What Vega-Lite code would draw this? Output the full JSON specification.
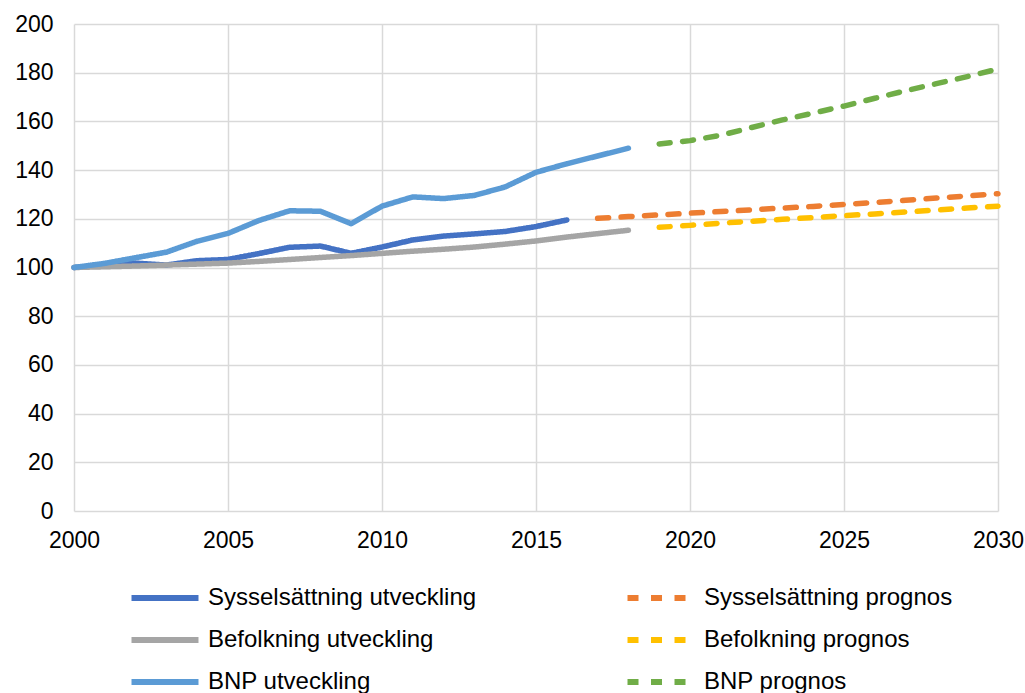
{
  "$schema": "https://vega.github.io/schema/vega-lite/v6.json",
  "width": 924,
  "height": 487,
  "autosize": {"type": "none"},
  "padding": {"left": 74, "top": 24, "right": 27, "bottom": 182},
  "background": "white",
  "config": {
    "view": {"stroke": null},
    "font": "Liberation Sans",
    "axis": {
      "domain": false,
      "ticks": false,
      "gridColor": "#d9d9d9",
      "gridWidth": 1.5,
      "labelFont": "Liberation Sans",
      "labelFontSize": 23,
      "labelColor": "#000000",
      "title": null
    },
    "legend": {
      "labelFont": "Liberation Sans",
      "labelFontSize": 24,
      "labelColor": "#000000"
    }
  },
  "data": {
    "values": [
      {"year": 2000, "series": "Sysselsättning utveckling", "value": 100},
      {"year": 2001, "series": "Sysselsättning utveckling", "value": 101},
      {"year": 2002, "series": "Sysselsättning utveckling", "value": 101.8},
      {"year": 2003, "series": "Sysselsättning utveckling", "value": 101},
      {"year": 2004, "series": "Sysselsättning utveckling", "value": 102.8},
      {"year": 2005, "series": "Sysselsättning utveckling", "value": 103.3},
      {"year": 2006, "series": "Sysselsättning utveckling", "value": 105.7},
      {"year": 2007, "series": "Sysselsättning utveckling", "value": 108.3},
      {"year": 2008, "series": "Sysselsättning utveckling", "value": 108.8},
      {"year": 2009, "series": "Sysselsättning utveckling", "value": 105.8},
      {"year": 2010, "series": "Sysselsättning utveckling", "value": 108.4},
      {"year": 2011, "series": "Sysselsättning utveckling", "value": 111.3},
      {"year": 2012, "series": "Sysselsättning utveckling", "value": 112.9},
      {"year": 2013, "series": "Sysselsättning utveckling", "value": 113.8},
      {"year": 2014, "series": "Sysselsättning utveckling", "value": 114.8},
      {"year": 2015, "series": "Sysselsättning utveckling", "value": 116.8},
      {"year": 2016, "series": "Sysselsättning utveckling", "value": 119.5},
      {"year": 2000, "series": "Befolkning utveckling", "value": 100},
      {"year": 2001, "series": "Befolkning utveckling", "value": 100.3},
      {"year": 2002, "series": "Befolkning utveckling", "value": 100.6},
      {"year": 2003, "series": "Befolkning utveckling", "value": 101},
      {"year": 2004, "series": "Befolkning utveckling", "value": 101.4},
      {"year": 2005, "series": "Befolkning utveckling", "value": 101.8},
      {"year": 2006, "series": "Befolkning utveckling", "value": 102.5},
      {"year": 2007, "series": "Befolkning utveckling", "value": 103.3},
      {"year": 2008, "series": "Befolkning utveckling", "value": 104.1},
      {"year": 2009, "series": "Befolkning utveckling", "value": 104.9},
      {"year": 2010, "series": "Befolkning utveckling", "value": 105.8},
      {"year": 2011, "series": "Befolkning utveckling", "value": 106.7},
      {"year": 2012, "series": "Befolkning utveckling", "value": 107.5},
      {"year": 2013, "series": "Befolkning utveckling", "value": 108.4},
      {"year": 2014, "series": "Befolkning utveckling", "value": 109.6},
      {"year": 2015, "series": "Befolkning utveckling", "value": 110.9},
      {"year": 2016, "series": "Befolkning utveckling", "value": 112.5},
      {"year": 2017, "series": "Befolkning utveckling", "value": 113.9},
      {"year": 2018, "series": "Befolkning utveckling", "value": 115.3},
      {"year": 2000, "series": "BNP utveckling", "value": 100},
      {"year": 2001, "series": "BNP utveckling", "value": 101.7},
      {"year": 2002, "series": "BNP utveckling", "value": 104},
      {"year": 2003, "series": "BNP utveckling", "value": 106.3},
      {"year": 2004, "series": "BNP utveckling", "value": 110.8},
      {"year": 2005, "series": "BNP utveckling", "value": 114},
      {"year": 2006, "series": "BNP utveckling", "value": 119.3},
      {"year": 2007, "series": "BNP utveckling", "value": 123.3},
      {"year": 2008, "series": "BNP utveckling", "value": 123.1},
      {"year": 2009, "series": "BNP utveckling", "value": 118},
      {"year": 2010, "series": "BNP utveckling", "value": 125.2},
      {"year": 2011, "series": "BNP utveckling", "value": 129},
      {"year": 2012, "series": "BNP utveckling", "value": 128.3},
      {"year": 2013, "series": "BNP utveckling", "value": 129.6},
      {"year": 2014, "series": "BNP utveckling", "value": 133.1},
      {"year": 2015, "series": "BNP utveckling", "value": 139.1},
      {"year": 2016, "series": "BNP utveckling", "value": 142.6},
      {"year": 2017, "series": "BNP utveckling", "value": 145.8},
      {"year": 2018, "series": "BNP utveckling", "value": 149},
      {"year": 2017, "series": "Sysselsättning prognos", "value": 120.2},
      {"year": 2018, "series": "Sysselsättning prognos", "value": 120.9},
      {"year": 2019, "series": "Sysselsättning prognos", "value": 121.6},
      {"year": 2020, "series": "Sysselsättning prognos", "value": 122.3},
      {"year": 2021, "series": "Sysselsättning prognos", "value": 123},
      {"year": 2022, "series": "Sysselsättning prognos", "value": 123.7},
      {"year": 2023, "series": "Sysselsättning prognos", "value": 124.4},
      {"year": 2024, "series": "Sysselsättning prognos", "value": 125.1},
      {"year": 2025, "series": "Sysselsättning prognos", "value": 125.9},
      {"year": 2026, "series": "Sysselsättning prognos", "value": 126.7},
      {"year": 2027, "series": "Sysselsättning prognos", "value": 127.6},
      {"year": 2028, "series": "Sysselsättning prognos", "value": 128.5},
      {"year": 2029, "series": "Sysselsättning prognos", "value": 129.4},
      {"year": 2030, "series": "Sysselsättning prognos", "value": 130.3},
      {"year": 2019, "series": "Befolkning prognos", "value": 116.5},
      {"year": 2020, "series": "Befolkning prognos", "value": 117.3},
      {"year": 2021, "series": "Befolkning prognos", "value": 118.2},
      {"year": 2022, "series": "Befolkning prognos", "value": 119},
      {"year": 2023, "series": "Befolkning prognos", "value": 119.8},
      {"year": 2024, "series": "Befolkning prognos", "value": 120.5},
      {"year": 2025, "series": "Befolkning prognos", "value": 121.3},
      {"year": 2026, "series": "Befolkning prognos", "value": 122},
      {"year": 2027, "series": "Befolkning prognos", "value": 122.8},
      {"year": 2028, "series": "Befolkning prognos", "value": 123.6},
      {"year": 2029, "series": "Befolkning prognos", "value": 124.4},
      {"year": 2030, "series": "Befolkning prognos", "value": 125.2},
      {"year": 2019, "series": "BNP prognos", "value": 150.7},
      {"year": 2020, "series": "BNP prognos", "value": 152.1},
      {"year": 2021, "series": "BNP prognos", "value": 154.3},
      {"year": 2022, "series": "BNP prognos", "value": 157.5},
      {"year": 2023, "series": "BNP prognos", "value": 160.6},
      {"year": 2024, "series": "BNP prognos", "value": 163.4},
      {"year": 2025, "series": "BNP prognos", "value": 166.3},
      {"year": 2026, "series": "BNP prognos", "value": 169.5},
      {"year": 2027, "series": "BNP prognos", "value": 172.6},
      {"year": 2028, "series": "BNP prognos", "value": 175.5},
      {"year": 2029, "series": "BNP prognos", "value": 178.4},
      {"year": 2030, "series": "BNP prognos", "value": 181.5}
    ]
  },
  "mark": {"type": "line", "strokeWidth": 5.5, "strokeCap": "round", "strokeJoin": "round"},
  "encoding": {
    "x": {
      "field": "year",
      "type": "quantitative",
      "scale": {"domain": [2000, 2030], "nice": false, "zero": false},
      "axis": {"values": [2000, 2005, 2010, 2015, 2020, 2025, 2030], "format": "d", "labelPadding": 18, "labelFlush": false, "grid": true}
    },
    "y": {
      "field": "value",
      "type": "quantitative",
      "scale": {"domain": [0, 200], "nice": false},
      "axis": {"values": [0, 20, 40, 60, 80, 100, 120, 140, 160, 180, 200], "labelPadding": 21, "grid": true}
    },
    "color": {
      "field": "series",
      "type": "nominal",
      "scale": {
        "domain": ["Sysselsättning utveckling", "Sysselsättning prognos", "Befolkning utveckling", "Befolkning prognos", "BNP utveckling", "BNP prognos"],
        "range": ["#4472C4", "#ED7D31", "#A5A5A5", "#FFC000", "#5B9BD5", "#70AD47"]
      },
      "legend": {
        "title": null,
        "orient": "none",
        "direction": "horizontal",
        "legendX": 71,
        "legendY": 554,
        "columns": 2,
        "columnPadding": 138,
        "rowPadding": 10,
        "symbolType": "M-2,0H2",
        "symbolSize": 1122,
        "symbolStrokeWidth": 6,
        "symbolDash": [11, 12.5],
        "labelOffset": 23,
        "labelLimit": 500,
        "padding": 0
      }
    },
    "strokeDash": {
      "field": "series",
      "type": "nominal",
      "scale": {
        "domain": ["Sysselsättning utveckling", "Sysselsättning prognos", "Befolkning utveckling", "Befolkning prognos", "BNP utveckling", "BNP prognos"],
        "range": [[1, 0], [11, 12.5], [1, 0], [11, 12.5], [1, 0], [11, 12.5]]
      },
      "legend": null
    }
  }
}
